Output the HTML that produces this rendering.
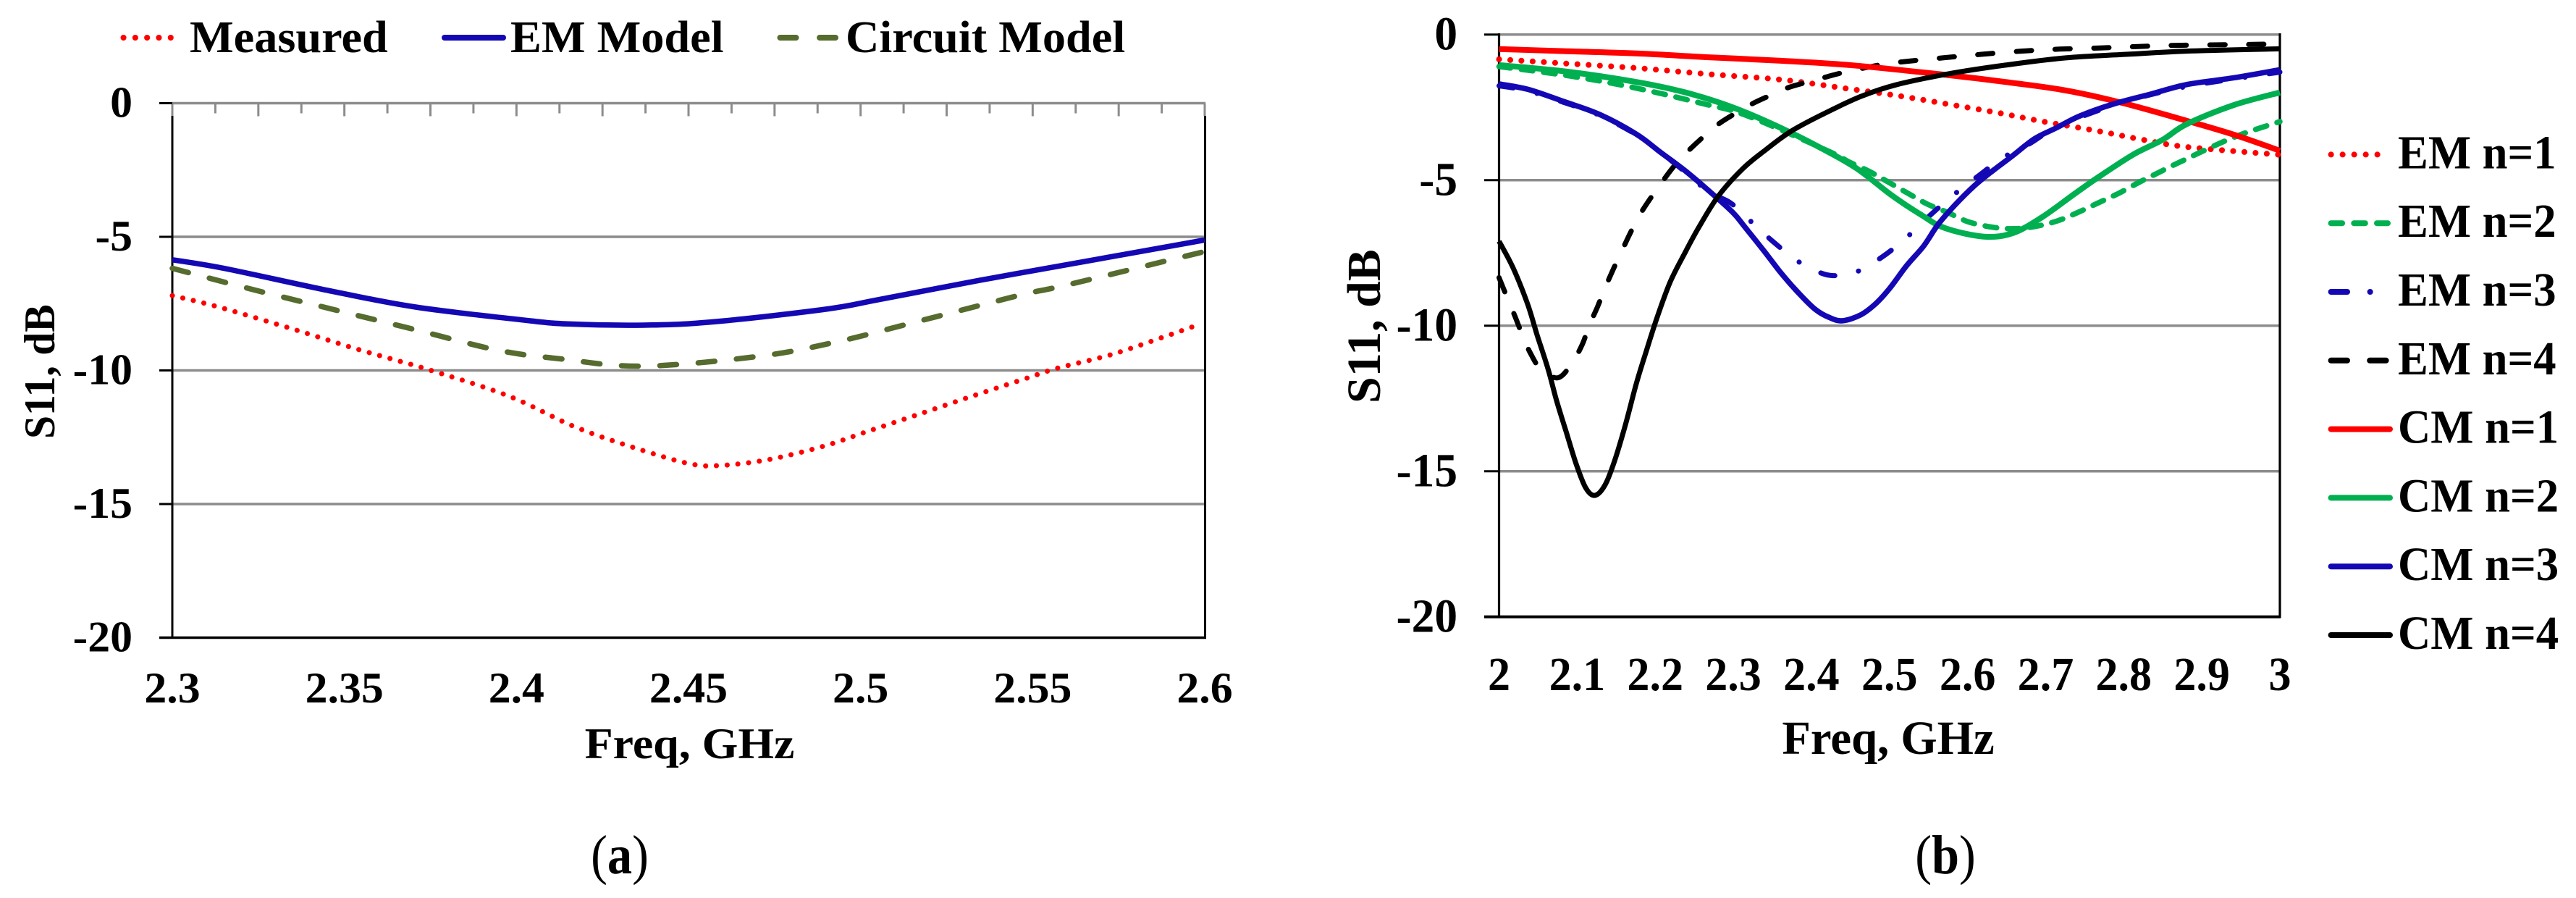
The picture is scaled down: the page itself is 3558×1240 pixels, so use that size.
<!DOCTYPE html>
<html lang="en">
<head>
<meta charset="utf-8">
<title>S11 versus frequency charts</title>
<style>
html,body{margin:0;padding:0;background:#fff;}
svg{display:block;}
text{font-family:"Liberation Serif",serif;font-weight:bold;fill:#000;}
</style>
</head>
<body>
<svg id="fig" xmlns="http://www.w3.org/2000/svg" width="3558" height="1240" viewBox="0 0 3558 1240">
<rect x="0" y="0" width="3558" height="1240" fill="#fff"/>
</svg>
<script>
// ---------- Panel (a) data ----------
const aYTicks = [0, -5, -10, -15, -20];
const aXLabels = ["2.3", "2.35", "2.4", "2.45", "2.5", "2.55", "2.6"];
const aXTickValues = [2.3, 2.35, 2.4, 2.45, 2.5, 2.55, 2.6];
const aMinorTicks = [2.3125, 2.325, 2.3375, 2.35, 2.3625, 2.375, 2.3875, 2.4, 2.4125, 2.425, 2.4375, 2.45, 2.4625, 2.475, 2.4875, 2.5, 2.5125, 2.525, 2.5375, 2.55, 2.5625, 2.575, 2.5875, 2.6];

const measuredFreq = [2.3, 2.3127, 2.3345, 2.3526, 2.3659, 2.3747, 2.3976, 2.4168, 2.4344, 2.4507, 2.46, 2.4735, 2.4894, 2.5016, 2.5167, 2.5327, 2.5476, 2.5571, 2.573, 2.588, 2.5975];
const measuredS11 = [-7.2, -7.6, -8.43, -9.16, -9.65, -9.98, -10.95, -12.1, -12.9, -13.5, -13.55, -13.33, -12.83, -12.3, -11.65, -10.95, -10.32, -9.92, -9.4, -8.75, -8.32];

const emModelFreq = [2.3, 2.315, 2.3465, 2.3707, 2.3997, 2.4148, 2.4393, 2.459, 2.4904, 2.5053, 2.5346, 2.56, 2.6];
const emModelS11 = [-5.86, -6.18, -7.04, -7.63, -8.08, -8.26, -8.3, -8.16, -7.7, -7.35, -6.63, -6.04, -5.12];

const circuitFreq = [2.3, 2.3224, 2.3465, 2.3707, 2.3948, 2.413, 2.4367, 2.4706, 2.4931, 2.5156, 2.5373, 2.5487, 2.56, 2.593, 2.6];
const circuitS11 = [-6.18, -6.94, -7.71, -8.48, -9.25, -9.57, -9.84, -9.47, -8.93, -8.2, -7.48, -7.11, -6.8, -5.77, -5.55];

// ---------- Panel (b) data ----------
const bYTicks = [0, -5, -10, -15, -20];
const bXLabels = ["2", "2.1", "2.2", "2.3", "2.4", "2.5", "2.6", "2.7", "2.8", "2.9", "3"];
const bXTickValues = [2, 2.1, 2.2, 2.3, 2.4, 2.5, 2.6, 2.7, 2.8, 2.9, 3];

const em1Freq = [2, 2.083, 2.1757, 2.2684, 2.3611, 2.4415, 2.5126, 2.5682, 2.6393, 2.695, 2.7661, 2.8217, 2.8804, 3];
const em1S11 = [-0.85, -0.99, -1.15, -1.36, -1.55, -1.84, -2.11, -2.36, -2.69, -2.98, -3.31, -3.6, -3.86, -4.13];

const em2Freq = [2, 2.0923, 2.1757, 2.2622, 2.3179, 2.423, 2.4477, 2.474, 2.4987, 2.5234, 2.5482, 2.5744, 2.6006, 2.6301, 2.6579, 2.6872, 2.7151, 2.7413, 2.7675, 2.7939, 2.8201, 2.8449, 2.8695, 2.94, 3];
const em2S11 = [-1.1, -1.43, -1.84, -2.38, -2.79, -4.02, -4.37, -4.7, -5.07, -5.45, -5.82, -6.11, -6.43, -6.61, -6.67, -6.59, -6.4, -6.11, -5.78, -5.45, -5.07, -4.74, -4.41, -3.54, -2.99];

const em3Freq = [2, 2.0366, 2.083, 2.1293, 2.1757, 2.2066, 2.2375, 2.2684, 2.2963, 2.321, 2.3503, 2.3818, 2.4075, 2.4276, 2.4554, 2.4907, 2.5219, 2.5528, 2.582, 2.6131, 2.6461, 2.6795, 2.7151, 2.787, 2.87, 2.95, 3];
const em3S11 = [-1.76, -1.93, -2.33, -2.78, -3.44, -4.04, -4.7, -5.4, -5.78, -6.38, -7.1, -7.77, -8.14, -8.28, -8.18, -7.64, -6.97, -6.19, -5.51, -4.87, -4.22, -3.75, -3.17, -2.43, -1.84, -1.49, -1.29];

const em4Freq = [2, 2.0088, 2.0197, 2.0289, 2.0397, 2.0536, 2.0753, 2.0923, 2.1062, 2.1154, 2.1263, 2.1356, 2.1463, 2.1572, 2.168, 2.1803, 2.1943, 2.2097, 2.2251, 2.2422, 2.2622, 2.2808, 2.3025, 2.3241, 2.3473, 2.3704, 2.3952, 2.42, 2.4446, 2.494, 2.5188, 2.5682, 2.6177, 2.6687, 2.7181, 2.7691, 2.8185, 2.8695, 2.96, 3];
const em4S11 = [-8.35, -8.93, -9.63, -10.26, -10.92, -11.5, -11.79, -11.33, -10.67, -10, -9.34, -8.72, -8.06, -7.44, -6.82, -6.19, -5.61, -5.03, -4.49, -4, -3.5, -3.08, -2.71, -2.38, -2.09, -1.82, -1.63, -1.45, -1.28, -1.01, -0.93, -0.8, -0.68, -0.57, -0.5, -0.46, -0.41, -0.37, -0.34, -0.32];

const cm1Freq = [2, 2.083, 2.1757, 2.2684, 2.3611, 2.4539, 2.5775, 2.6486, 2.7258, 2.7969, 2.8804, 2.94, 3];
const cm1S11 = [-0.5, -0.57, -0.65, -0.78, -0.9, -1.06, -1.4, -1.63, -1.92, -2.34, -2.96, -3.43, -3.99];

const cm2Freq = [2, 2.083, 2.1757, 2.2375, 2.2993, 2.3611, 2.4075, 2.4569, 2.5033, 2.5404, 2.5713, 2.6208, 2.6579, 2.695, 2.7382, 2.7691, 2.8124, 2.8495, 2.8804, 2.94, 3];
const cm2S11 = [-1.05, -1.26, -1.63, -1.98, -2.5, -3.21, -3.83, -4.58, -5.53, -6.19, -6.65, -6.94, -6.82, -6.28, -5.45, -4.87, -4.12, -3.62, -3.08, -2.43, -1.99];

const cm3Freq = [2, 2.0366, 2.083, 2.1293, 2.1757, 2.2066, 2.2375, 2.2684, 2.2993, 2.3148, 2.3395, 2.3611, 2.3827, 2.4045, 2.423, 2.44, 2.4631, 2.4817, 2.5002, 2.5219, 2.5436, 2.5621, 2.5837, 2.6085, 2.6332, 2.6579, 2.6857, 2.7135, 2.7444, 2.7877, 2.834, 2.8804, 2.94, 3];
const cm3S11 = [-1.7, -1.88, -2.3, -2.75, -3.42, -4.04, -4.66, -5.36, -6.11, -6.61, -7.44, -8.19, -8.85, -9.43, -9.72, -9.83, -9.63, -9.26, -8.72, -7.94, -7.27, -6.53, -5.86, -5.2, -4.66, -4.16, -3.58, -3.21, -2.79, -2.38, -2.05, -1.72, -1.49, -1.21];

const cm4Freq = [2, 2.0181, 2.0366, 2.049, 2.0629, 2.0737, 2.0861, 2.0985, 2.1108, 2.1226, 2.1356, 2.1479, 2.1618, 2.1757, 2.188, 2.2019, 2.219, 2.2376, 2.2561, 2.2808, 2.3117, 2.3395, 2.3735, 2.4168, 2.4631, 2.5095, 2.5775, 2.6486, 2.7258, 2.8032, 2.8804, 3];
const cm4S11 = [-7.1, -8.02, -9.26, -10.34, -11.5, -12.58, -13.66, -14.73, -15.56, -15.83, -15.48, -14.65, -13.41, -12, -10.92, -9.76, -8.51, -7.52, -6.61, -5.55, -4.62, -4, -3.33, -2.71, -2.13, -1.72, -1.34, -1.05, -0.8, -0.68, -0.57, -0.49];

// ---------- Axis functions ----------
function xA(f){ return 238 + (f - 2.3) / 0.3 * 1426; }
function yA(v){ return 142.5 + (-v) / 20 * 738; }
function xB(f){ return 2070.5 + (f - 2) * 1078.5; }
function yB(v){ return 47.7 + (-v) / 20 * 804; }

const NS = "http://www.w3.org/2000/svg";
const fig = document.getElementById("fig");

function make(tag, attrs, parent){
  const el = document.createElementNS(NS, tag);
  for (const k in attrs) el.setAttribute(k, attrs[k]);
  (parent || fig).appendChild(el);
  return el;
}
function line(x1, y1, x2, y2, color, width, parent){
  return make("line", {x1:x1, y1:y1, x2:x2, y2:y2, stroke:color, "stroke-width":width}, parent);
}
function label(x, y, str, size, sx, anchor, parent){
  const t = make("text", {transform:"translate(" + x + "," + y + ") scale(" + sx + ",1)", "font-size":size, "text-anchor":anchor}, parent);
  t.textContent = str;
  return t;
}
function smoothPath(xs, ys){
  let d = "M" + xs[0].toFixed(1) + " " + ys[0].toFixed(1);
  for (let i = 0; i < xs.length - 1; i++){
    const p = Math.max(i - 1, 0), n = Math.min(i + 2, xs.length - 1);
    const c1x = xs[i] + (xs[i + 1] - xs[p]) / 6, c1y = ys[i] + (ys[i + 1] - ys[p]) / 6;
    const c2x = xs[i + 1] - (xs[n] - xs[i]) / 6, c2y = ys[i + 1] - (ys[n] - ys[i]) / 6;
    d += "C" + c1x.toFixed(1) + " " + c1y.toFixed(1) + " " + c2x.toFixed(1) + " " + c2y.toFixed(1) + " " + xs[i + 1].toFixed(1) + " " + ys[i + 1].toFixed(1);
  }
  return d;
}
function series(freq, vals, xf, yf, color, width, dash){
  const attrs = {d:smoothPath(freq.map(xf), vals.map(yf)), fill:"none", stroke:color, "stroke-width":width, "stroke-linejoin":"round"};
  if (dash){ attrs["stroke-dasharray"] = dash; attrs["stroke-linecap"] = "round"; }
  return make("path", attrs);
}
function legendLine(x1, x2, y, color, width, dash){
  const attrs = {x1:x1, y1:y, x2:x2, y2:y, stroke:color, "stroke-width":width, "stroke-linecap":"round"};
  if (dash) attrs["stroke-dasharray"] = dash;
  return make("line", attrs);
}

const GRAY = "#8c8c8c", RED = "#ff0000", GREEN = "#00b050", BLUE = "#1408b4", OLIVE = "#566b2e", BLACK = "#000";
const DOT_A = "0.1 14.8", DOT_B = "0.1 15.4", DASH_OLIVE = "23 30", DASH_GREEN = "16 15", DASH_BLUE = "20 33.5 0.1 33.5", DASH_BLACK = "21 32.5";
let el;

// ---------- Panel (a) axes ----------
aYTicks.forEach(function(v){
  if (v === -20) return;
  el = line(238, yA(v), 1665, yA(v), GRAY, 3.5);
  
  
});
aMinorTicks.forEach(function(f, i){
  el = line(xA(f), yA(0), xA(f), yA(0) + (i % 2 ? 18 : 14), GRAY, 3);
  
  
});
el = line(238, 142, 238, 161, GRAY, 3);


el = line(238, 160, 238, 882, BLACK, 3);


el = line(1664.5, 160, 1664.5, 882, BLACK, 3);


el = line(220, yA(-20), 1666, yA(-20), BLACK, 3.5);


aYTicks.forEach(function(v){
  el = line(220, yA(v), 238, yA(v), BLACK, 3);
  
  
  el = label(183, yA(v) + 19, String(v), 60, 1.03, "end");
  
  
});
aXTickValues.forEach(function(f, i){
  el = label(xA(f), 970, aXLabels[i], 60, 1.03, "middle");
  
  
});
el = label(952.5, 1047, "Freq, GHz", 60, 1.065, "middle");


el = make("text", {transform:"translate(75,606) rotate(-90) scale(0.96,1)", "font-size":60, "text-anchor":"start"});
el.textContent = "S11, dB";



// ---------- Panel (a) series ----------
el = series(measuredFreq, measuredS11, xA, yA, RED, 7, DOT_A);


el = series(circuitFreq, circuitS11, xA, yA, OLIVE, 7.5, DASH_OLIVE);


el = series(emModelFreq, emModelS11, xA, yA, BLUE, 7.5);



// ---------- Panel (a) legend ----------
el = legendLine(170.5, 250, 52, RED, 8, "0.1 16.2");


el = label(262, 72, "Measured", 62, 1.037, "start");


el = legendLine(614, 695, 52, BLUE, 8);


el = label(705, 72, "EM Model", 62, 1.037, "start");


el = legendLine(1077.5, 1154, 52, OLIVE, 8, "22 32.6");


el = label(1168, 72, "Circuit Model", 62, 1.037, "start");



// ---------- Panel (b) axes ----------
bYTicks.forEach(function(v){
  if (v === -20) return;
  el = line(2070.5, yB(v), 3149, yB(v), GRAY, 3.5);
  
  
});
el = line(2070.5, 46, 2070.5, 853, BLACK, 3.2);


el = line(3149, 46, 3149, 853, BLACK, 3.2);


el = line(2050, yB(-20), 3150, yB(-20), BLACK, 4);


bYTicks.forEach(function(v){
  el = line(2050, yB(v), 2070.5, yB(v), BLACK, 3);
  
  
  el = label(2013, yB(v) + 21, String(v), 66, 0.96, "end");
  
  
});
bXTickValues.forEach(function(f, i){
  el = label(xB(f), 953, bXLabels[i], 66, 0.94, "middle");
  
  
});
el = label(2608, 1041, "Freq, GHz", 66, 0.98, "middle");


el = make("text", {transform:"translate(1906,557) rotate(-90)", "font-size":66, "text-anchor":"start"});
el.textContent = "S11, dB";



// ---------- Panel (b) series ----------
el = series(em1Freq, em1S11, xB, yB, RED, 8, DOT_B);


el = series(em2Freq, em2S11, xB, yB, GREEN, 7.5, DASH_GREEN);


el = series(em3Freq, em3S11, xB, yB, BLUE, 7, DASH_BLUE);


el = series(em4Freq, em4S11, xB, yB, BLACK, 7, DASH_BLACK);


el = series(cm1Freq, cm1S11, xB, yB, RED, 8);


el = series(cm2Freq, cm2S11, xB, yB, GREEN, 8);


el = series(cm3Freq, cm3S11, xB, yB, BLUE, 7.5);


el = series(cm4Freq, cm4S11, xB, yB, BLACK, 7);



// ---------- Panel (b) legend ----------
const bLegendLabels = ["EM n=1", "EM n=2", "EM n=3", "EM n=4", "CM n=1", "CM n=2", "CM n=3", "CM n=4"];
const bLegendColors = [RED, GREEN, BLUE, BLACK, RED, GREEN, BLUE, BLACK];
const bLegendDashes = ["0.1 15.9", "15.5 16.2", "22.4 31.6 0.1 100", "22.4 31.2", "", "", "", ""];
bLegendLabels.forEach(function(name, i){
  const y = 213.4 + i * 94.8;
  const isCm = i > 3;
  el = legendLine(3219.6, isCm ? 3301 : 3298, y, bLegendColors[i], 8, bLegendDashes[i]);
  
  
  el = label(3312, y + 19, name, 66, 0.95, "start");
  
  
});

// ---------- Panel captions ----------
function caption(cx, letter, name){
  const t = make("text", {transform:"translate(" + cx + ",1206) scale(0.9,1)", "font-size":76, "text-anchor":"middle", style:"font-weight:normal"});
  const a = make("tspan", {}, t); a.textContent = "(";
  const b = make("tspan", {style:"font-weight:bold"}, t); b.textContent = letter;
  const c = make("tspan", {}, t); c.textContent = ")";
  
  
}
caption(856, "a", "panel-a-caption");
caption(2687, "b", "panel-b-caption");
</script>
</body>
</html>
